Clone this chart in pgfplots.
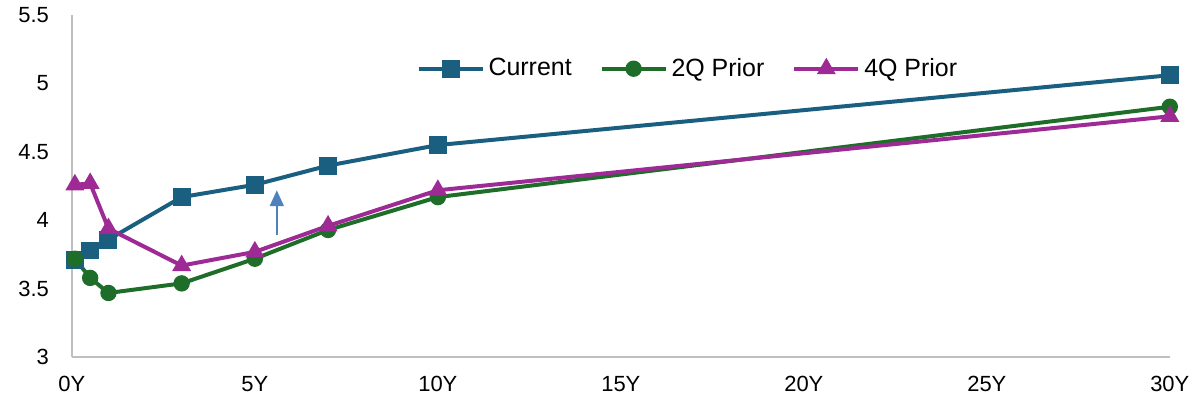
\documentclass[border=0pt]{standalone}
\usepackage{pgfplots}
\pgfplotsset{compat=1.18}
\usetikzlibrary{arrows.meta}
\usepackage{fontspec}
\setmainfont{Liberation Sans}

\definecolor{curblue}{HTML}{1A5F80}
\definecolor{qgreen}{HTML}{1E6E2A}
\definecolor{qmag}{HTML}{9E2A96}
\definecolor{arrowblue}{HTML}{4F81BD}
\definecolor{axgray}{HTML}{BFBFBF}

\begin{document}
\begin{tikzpicture}[x=0.5pt,y=0.5pt]
\begin{axis}[
    at={(0,0)}, anchor=origin,
    scale only axis,
    width=550pt, height=171.5pt,
    xmin=0, xmax=30,
    ymin=3, ymax=5.5,
    axis x line*=bottom,
    axis y line*=left,
    axis line style={axgray, line width=1pt},
    xtick={0,5,10,15,20,25,30},
    xticklabels={0Y,5Y,10Y,15Y,20Y,25Y,30Y},
    ytick={3,3.5,4,4.5,5,5.5},
    yticklabels={3,3.5,4,4.5,5,5.5},
    major tick length=0pt,
    tick label style={font=\fontsize{11pt}{13pt}\selectfont, black},
    xticklabel style={yshift=-6pt},
    yticklabel style={xshift=-8pt},
    clip=false,
    legend style={
        draw=none, fill=none,
        at={(0.562,0.843)}, anchor=center,
        legend columns=3,
        font=\fontsize{12.5pt}{14pt}\selectfont,
        /tikz/every even column/.append style={column sep=12pt},
    },
    legend image code/.code={
        \draw[#1, mark repeat=2, mark phase=2]
            plot coordinates {(0pt,0pt) (16pt,0pt) (32pt,0pt)};
    },
]
\addplot[curblue, line width=2pt, mark=square*, mark size=4pt,
    mark options={solid, fill=curblue, line width=1pt}]
    coordinates {
    (0.083,3.71)(0.5,3.78)(1,3.86)(3,4.17)(5,4.26)(7,4.40)(10,4.55)(30,5.06)
    };
\addlegendentry{Current}

\addplot[qgreen, line width=2pt, mark=*, mark size=3.6pt,
    mark options={solid, fill=qgreen, line width=1pt}]
    coordinates {
    (0.083,3.72)(0.5,3.58)(1,3.47)(3,3.54)(5,3.72)(7,3.93)(10,4.17)(30,4.83)
    };
\addlegendentry{2Q Prior}

\addplot[qmag, line width=2pt, mark=triangle*, mark size=4.5pt,
    mark options={solid, fill=qmag, line width=1pt}]
    coordinates {
    (0.083,4.26)(0.5,4.27)(1,3.94)(3,3.67)(5,3.77)(7,3.96)(10,4.22)(30,4.76)
    };
\addlegendentry{4Q Prior}

\addplot[arrowblue, line width=1pt, -{Triangle[width=7pt,length=8pt]},
    forget plot]
    coordinates {(5.6,3.89)(5.6,4.22)};
\end{axis}
\path[use as bounding box] (-72,-43) rectangle (1124,358);
\end{tikzpicture}
\end{document}
